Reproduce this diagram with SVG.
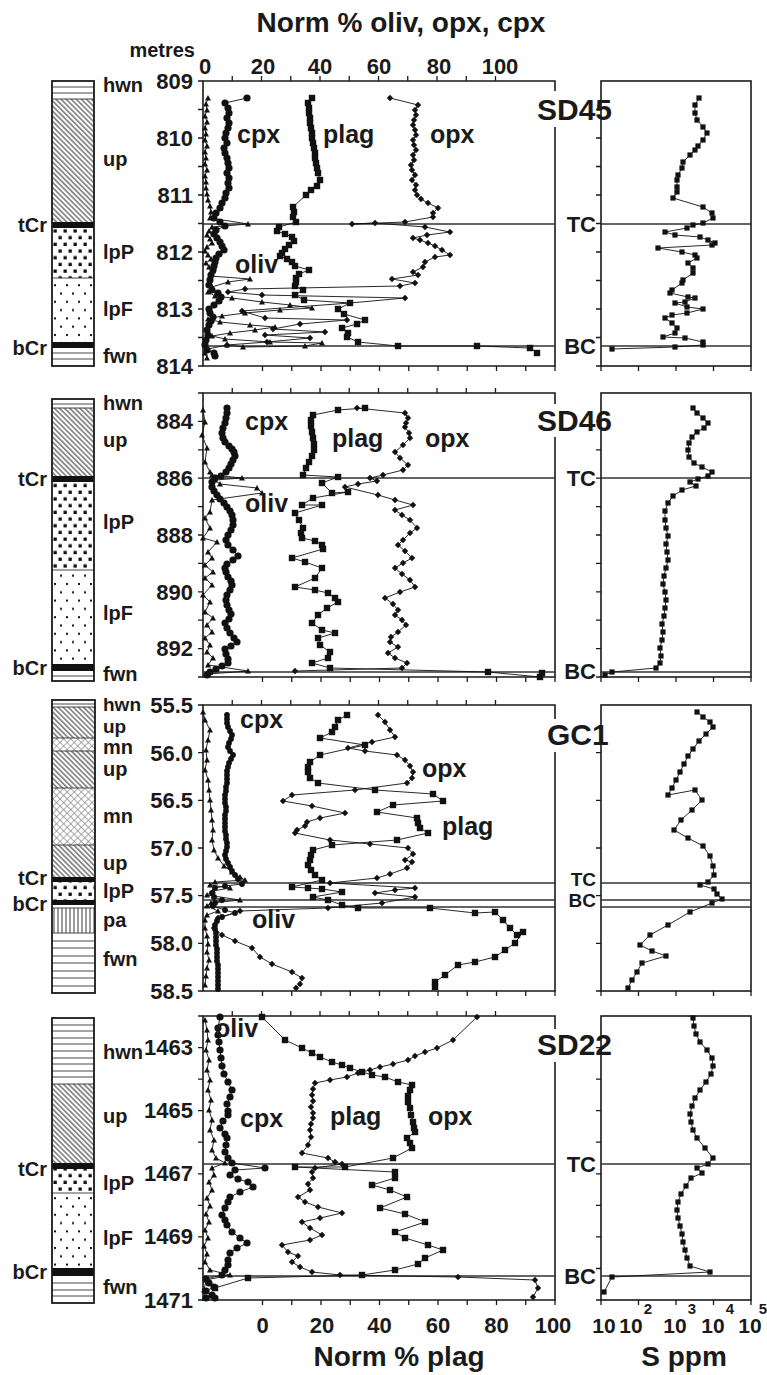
<svg xmlns="http://www.w3.org/2000/svg" width="767" height="1375" viewBox="0 0 767 1375">
<style>
text{font-family:"Liberation Sans",Arial,Helvetica,sans-serif;font-weight:bold;fill:#1a1a1a}
.big{font-size:28px}
.num{font-size:22px}
.n21{font-size:21px}
.lab{font-size:20px}
.l19{font-size:19px}
.cur{font-size:25px}
.ttl{font-size:30px}
.tb{font-size:22px}
.tbs{font-size:19px}
.sup{font-size:15px}
.fr{fill:none;stroke:#1a1a1a;stroke-width:1.6}
.tk{fill:none;stroke:#1a1a1a;stroke-width:1.3}
.hl{fill:none;stroke:#333;stroke-width:1.3}
.d{fill:none;stroke:#111;stroke-width:0.9}
.c{marker-start:url(#mc);marker-mid:url(#mc);marker-end:url(#mc)}
.c2{marker-start:url(#mc2);marker-mid:url(#mc2);marker-end:url(#mc2)}
.s{marker-start:url(#ms);marker-mid:url(#ms);marker-end:url(#ms)}
.o{marker-start:url(#md);marker-mid:url(#md);marker-end:url(#md)}
.t{marker-start:url(#mt);marker-mid:url(#mt);marker-end:url(#mt)}
.ss{marker-start:url(#ms2);marker-mid:url(#ms2);marker-end:url(#ms2)}
.col{fill:none;stroke:#1a1a1a;stroke-width:1.8}
.bl{stroke:#333;stroke-width:0.9}
</style>
<defs>
<marker id="mc" markerUnits="userSpaceOnUse" markerWidth="10" markerHeight="10" refX="5" refY="5"><circle cx="5" cy="5" r="3.6" fill="#111"/></marker>
<marker id="mc2" markerUnits="userSpaceOnUse" markerWidth="10" markerHeight="10" refX="5" refY="5"><circle cx="5" cy="5" r="2.9" fill="#111"/></marker>
<marker id="ms" markerUnits="userSpaceOnUse" markerWidth="10" markerHeight="10" refX="5" refY="5"><rect x="1.8" y="1.8" width="6.4" height="6.4" fill="#111"/></marker>
<marker id="ms2" markerUnits="userSpaceOnUse" markerWidth="10" markerHeight="10" refX="5" refY="5"><rect x="2.4" y="2.4" width="5.2" height="5.2" fill="#111"/></marker>
<marker id="md" markerUnits="userSpaceOnUse" markerWidth="10" markerHeight="10" refX="5" refY="5"><path d="M5,1.8L8.2,5L5,8.2L1.8,5Z" fill="#111"/></marker>
<marker id="mt" markerUnits="userSpaceOnUse" markerWidth="10" markerHeight="10" refX="5" refY="5"><path d="M5,2L8,7.4L2,7.4Z" fill="#111"/></marker>
<pattern id="pUp" width="3.6" height="3.6" patternUnits="userSpaceOnUse" patternTransform="rotate(-45)"><line x1="1.8" y1="0" x2="1.8" y2="3.6" stroke="#222" stroke-width="0.95"/></pattern>
<pattern id="pMn" width="5" height="5" patternUnits="userSpaceOnUse" patternTransform="rotate(45)"><path d="M2.5,0V5M0,2.5H5" stroke="#888" stroke-width="0.7"/></pattern>
<pattern id="pPa" width="4" height="4" patternUnits="userSpaceOnUse"><line x1="2" y1="0" x2="2" y2="4" stroke="#222" stroke-width="0.9"/></pattern>
<pattern id="pP" width="10" height="13.4" patternUnits="userSpaceOnUse" x="52"><rect x="1.5" y="1.5" width="3.3" height="3.3" fill="#111"/><rect x="6.5" y="8.2" width="3.3" height="3.3" fill="#111"/></pattern>
<pattern id="pF" width="12" height="16.6" patternUnits="userSpaceOnUse" x="52"><rect x="2" y="2" width="2" height="2" fill="#111"/><rect x="8" y="10.3" width="2" height="2" fill="#111"/></pattern>
<path id="tt" class="tk" d="M232.25,0v-5M261.5,0v-5M290.75,0v-5M320,0v-5M349.25,0v-5M378.5,0v-5M407.75,0v-5M437,0v-5M466.25,0v-5M495.5,0v-5"/>
<path id="bt" class="tk" d="M262.5,0v5M291.75,0v5M321,0v5M350.25,0v5M379.5,0v5M408.75,0v5M438,0v5M467.25,0v5M496.5,0v5M525.75,0v5M555,0v5"/>
<path id="sb" class="tk" d="M601,0v5M638.5,0v5M676,0v5M713.5,0v5M751,0v5"/>
</defs>
<rect width="767" height="1375" fill="#fff"/>

<!-- titles -->
<text class="big" x="401" y="32" text-anchor="middle">Norm % oliv, opx, cpx</text>
<text class="lab" x="195" y="57" text-anchor="end">metres</text>
<g class="num" text-anchor="middle">
<text x="205" y="74">0</text><text x="263" y="74">20</text><text x="320" y="74">40</text><text x="379" y="74">60</text><text x="439" y="74">80</text><text x="500" y="74">100</text>
<text x="262.5" y="1333">0</text><text x="322" y="1333">20</text><text x="379.5" y="1333">40</text><text x="438" y="1333">60</text><text x="496.5" y="1333">80</text><text x="553" y="1333">100</text>
</g>
<g class="n21" text-anchor="middle">
<text x="604" y="1333">10</text><text x="631" y="1333">10</text><text x="675" y="1333">10</text><text x="713" y="1333">10</text><text x="750" y="1333">10</text>
</g>
<g class="sup" text-anchor="middle"><text x="648" y="1314">2</text><text x="692" y="1314">3</text><text x="730" y="1314">4</text><text x="763" y="1314">5</text></g>
<text class="big" x="399" y="1366" text-anchor="middle">Norm % plag</text>
<text class="big" x="684" y="1366" text-anchor="middle">S ppm</text>

<!-- stratigraphic columns -->
<g id="col-SD45">
<rect x="52" y="81" width="42" height="18" fill="#fff"/><path class="bl" d="M52,87H94M52,93H94"/>
<rect x="52" y="99" width="42" height="123" fill="url(#pUp)"/>
<rect x="52" y="222" width="42" height="6" fill="#111"/>
<rect x="52" y="228" width="42" height="50" fill="url(#pP)"/>
<rect x="52" y="278" width="42" height="64" fill="url(#pF)"/>
<rect x="52" y="342" width="42" height="6" fill="#111"/>
<path class="bl" d="M52,99H94M52,278H94M52,353H94M52,359H94"/>
<rect class="col" x="52" y="81" width="42" height="285"/>
<g class="lab"><text x="103" y="92">hwn</text><text x="103" y="166">up</text><text x="47" y="232" text-anchor="end">tCr</text><text x="103" y="259">lpP</text><text x="103" y="316">lpF</text><text x="47" y="355" text-anchor="end">bCr</text><text x="103" y="363">fwn</text></g>
</g>
<g id="col-SD46">
<rect x="52" y="399" width="42" height="9" fill="#fff"/><path class="bl" d="M52,404H94"/>
<rect x="52" y="408" width="42" height="68" fill="url(#pUp)"/>
<rect x="52" y="476" width="42" height="6" fill="#111"/>
<rect x="52" y="482" width="42" height="88" fill="url(#pP)"/>
<rect x="52" y="570" width="42" height="94" fill="url(#pF)"/>
<rect x="52" y="664" width="42" height="7" fill="#111"/>
<path class="bl" d="M52,408H94M52,570H94M52,676H94"/>
<rect class="col" x="52" y="399" width="42" height="282"/>
<g class="lab"><text x="103" y="410">hwn</text><text x="103" y="447">up</text><text x="47" y="486" text-anchor="end">tCr</text><text x="103" y="529">lpP</text><text x="103" y="620">lpF</text><text x="47" y="675" text-anchor="end">bCr</text><text x="103" y="681">fwn</text></g>
</g>
<g id="col-GC1">
<rect x="52" y="700" width="43" height="7" fill="#fff"/><path class="bl" d="M52,704H95"/>
<rect x="52" y="707" width="43" height="31" fill="url(#pUp)"/>
<rect x="52" y="738" width="43" height="13" fill="url(#pMn)"/>
<rect x="52" y="751" width="43" height="37" fill="url(#pUp)"/>
<rect x="52" y="788" width="43" height="57" fill="url(#pMn)"/>
<rect x="52" y="845" width="43" height="32" fill="url(#pUp)"/>
<rect x="52" y="877" width="43" height="5" fill="#111"/>
<rect x="52" y="882" width="43" height="18" fill="url(#pP)"/>
<rect x="52" y="900" width="43" height="5" fill="#111"/>
<rect x="52" y="908" width="43" height="25" fill="url(#pPa)"/>
<path class="bl" d="M52,707H95M52,738H95M52,751H95M52,788H95M52,845H95M52,908H95M52,933H95M52,941H95M52,948H95M52,956H95M52,963H95M52,971H95M52,978H95M52,986H95"/>
<rect class="col" x="52" y="700" width="43" height="293"/>
<g class="l19"><text x="103" y="711">hwn</text><text x="103" y="733">up</text></g>
<g class="lab"><text x="103" y="754">mn</text><text x="103" y="776">up</text><text x="103" y="823">mn</text><text x="103" y="870">up</text><text x="47" y="885" text-anchor="end">tCr</text><text x="103" y="898">lpP</text><text x="47" y="911" text-anchor="end">bCr</text><text x="103" y="927">pa</text><text x="103" y="966">fwn</text></g>
</g>
<g id="col-SD22">
<rect x="52" y="1018" width="42" height="66" fill="#fff"/>
<path class="bl" d="M52,1025H94M52,1031H94M52,1038H94M52,1044H94M52,1051H94M52,1058H94M52,1064H94M52,1071H94M52,1077H94M52,1084H94"/>
<rect x="52" y="1084" width="42" height="79" fill="url(#pUp)"/>
<rect x="52" y="1163" width="42" height="6" fill="#111"/>
<rect x="52" y="1169" width="42" height="24" fill="url(#pP)"/>
<rect x="52" y="1193" width="42" height="75" fill="url(#pF)"/>
<rect x="52" y="1268" width="42" height="8" fill="#111"/>
<path class="bl" d="M52,1193H94M52,1283H94M52,1290H94M52,1296H94"/>
<rect class="col" x="52" y="1018" width="42" height="285"/>
<g class="lab"><text x="103" y="1059">hwn</text><text x="103" y="1123">up</text><text x="47" y="1176" text-anchor="end">tCr</text><text x="103" y="1190">lpP</text><text x="103" y="1245">lpF</text><text x="47" y="1279" text-anchor="end">bCr</text><text x="103" y="1294">fwn</text></g>
</g>

<!-- axes / frames -->
<g id="axes">
<path class="fr" d="M555,91V81H203V366H555V127"/>
<path class="fr" d="M555,404V393H203V677H555V437"/>
<path class="fr" d="M555,719V705H203V991H555V752"/>
<path class="fr" d="M555,1029V1016H203V1300H555V1062"/>
<rect class="fr" x="601" y="81" width="150" height="285"/>
<rect class="fr" x="601" y="393" width="150" height="284"/>
<rect class="fr" x="601" y="705" width="150" height="286"/>
<rect class="fr" x="601" y="1016" width="150" height="284"/>
<use href="#tt" y="81"/><use href="#tt" y="393"/><use href="#tt" y="705"/><use href="#tt" y="1016"/>
<use href="#bt" y="366"/><use href="#bt" y="677"/><use href="#bt" y="991"/><use href="#bt" y="1300"/>
<use href="#sb" y="366"/><use href="#sb" y="677"/><use href="#sb" y="991"/><use href="#sb" y="1300"/>
<path class="tk" d="M198,81h5M198,109.5h5M198,138h5M198,166.5h5M198,195h5M198,223.5h5M198,252h5M198,280.5h5M198,309h5M198,337.5h5M198,366h5M596,109.5h5M596,138h5M596,166.5h5M596,195h5M596,223.5h5M596,252h5M596,280.5h5M596,309h5M596,337.5h5M596,366h5"/>
<path class="tk" d="M198,393h5M198,421.4h5M198,449.8h5M198,478.2h5M198,506.6h5M198,535h5M198,563.4h5M198,591.8h5M198,620.2h5M198,648.6h5M198,677h5M596,421.4h5M596,449.8h5M596,478.2h5M596,506.6h5M596,535h5M596,563.4h5M596,591.8h5M596,620.2h5M596,648.6h5M596,677h5"/>
<path class="tk" d="M198,705h5M198,752.7h5M198,800.3h5M198,848h5M198,895.7h5M198,943.3h5M198,991h5M596,752.7h5M596,800.3h5M596,848h5M596,895.7h5M596,943.3h5M596,991h5"/>
<path class="tk" d="M198,1016h5M198,1047.6h5M198,1079.1h5M198,1110.7h5M198,1142.2h5M198,1173.8h5M198,1205.4h5M198,1236.9h5M198,1268.5h5M198,1300h5M596,1047.6h5M596,1079.1h5M596,1110.7h5M596,1142.2h5M596,1173.8h5M596,1205.4h5M596,1236.9h5M596,1268.5h5M596,1300h5"/>
<g class="num" text-anchor="end">
<text x="193" y="89">809</text><text x="193" y="146">810</text><text x="193" y="203">811</text><text x="193" y="260">812</text><text x="193" y="317">813</text><text x="193" y="374">814</text>
<text x="193" y="429">884</text><text x="193" y="486">886</text><text x="193" y="543">888</text><text x="193" y="600">890</text><text x="193" y="656">892</text>
<text x="193" y="713">55.5</text><text x="193" y="761">56.0</text><text x="193" y="808">56.5</text><text x="193" y="856">57.0</text><text x="193" y="903">57.5</text><text x="193" y="951">58.0</text><text x="193" y="999">58.5</text>
<text x="193" y="1055">1463</text><text x="193" y="1118">1465</text><text x="193" y="1181">1467</text><text x="193" y="1244">1469</text><text x="193" y="1308">1471</text>
</g>
<path class="hl" d="M203,224H555M601,224H751M203,346H555M601,346H751"/>
<path class="hl" d="M203,478H555M601,478H751M203,672H555M601,672H751"/>
<path class="hl" d="M203,883H555M601,883H751M203,900H555M601,900H751M203,907H555M601,907H751"/>
<path class="hl" d="M203,1164H555M601,1164H751M203,1276H555M601,1276H751"/>
<g class="tb" text-anchor="end">
<text x="596" y="232">TC</text><text x="596" y="354">BC</text>
<text x="596" y="486">TC</text><text x="596" y="679">BC</text>
<text x="596" y="1172">TC</text><text x="596" y="1284">BC</text>
</g>
<g class="tbs" text-anchor="end"><text x="596" y="886">TC</text><text x="596" y="907">BC</text></g>
<g class="ttl"><text x="537" y="120">SD45</text><text x="537" y="431">SD46</text><text x="547" y="745">GC1</text><text x="537" y="1055">SD22</text></g>
</g>

<!-- curves -->
<g id="connectors">
<!-- SD45 -->
<polyline class="d t" points="208,98 206,104 207,110 205,116 207,122 205,128 206,134 205,140 207,146 205,152 206,158 205,164 207,170 205,176 206,182 206,188 207,194 208,200 210,206 211,212 210,218 248,224 212,227 209,231 207,235 210,239 212,243 207,247 205,251 208,255 211,259 206,263 209,267 213,271 210,276 250,279 228,282 212,287 208,292 215,296 232,298 262,302 290,305 312,308 280,310 245,313 222,316 208,319 220,322 250,325 275,327 255,330 230,333 212,336 225,339 270,342 322,343 305,346 243,347 227,345 208,349 205,353 207,358"/>
<polyline class="d c" points="247,98 225,103 228,108 229,113 227,118 229,123 228,128 226,133 225,138 227,143 224,148 225,153 227,158 228,163 229,168 227,173 229,178 228,183 229,188 226,193 225,198 222,203 220,208 216,213 214,218 220,222 225,226 216,230 214,234 217,238 220,242 222,246 224,250 219,254 216,258 215,262 214,266 213,270 211,275 210,280 209,285 212,290 218,293 221,297 219,301 214,305 209,309 210,313 213,317 211,321 209,325 207,330 208,335 206,340 205,345 207,350 214,353 215,356"/>
<polyline class="d s" points="312,98 308,103 309,108 309,113 310,118 310,123 311,128 312,133 312,138 313,143 314,148 315,153 315,158 316,163 317,168 318,173 320,180 317,186 311,190 306,195 293,207 294,212 293,217 296,222 279,227 277,231 285,234 292,237 294,241 289,245 285,249 282,253 280,256 287,259 292,262 295,266 309,270 299,274 296,278 296,282 295,286 303,290 295,295 304,300 350,303 338,309 344,314 365,320 357,324 342,328 348,333 347,337 358,342 398,346 477,346 530,348 537,353"/>
<polyline class="d o" points="390,98 418,105 415,110 416,115 414,120 413,125 415,130 416,135 413,140 414,145 416,150 413,155 414,160 411,165 412,170 415,175 412,180 416,185 415,190 417,195 421,199 428,203 438,208 433,213 433,217 405,222 352,224 375,223 425,227 450,232 427,235 413,238 420,240 428,243 435,246 442,250 450,255 435,257 425,262 423,267 413,272 418,275 392,279 415,283 400,286 245,289 228,292 262,295 405,298 350,303 242,311 265,318 347,320 300,324 273,329 325,332 265,335 310,338 267,342 227,345"/>
<polyline class="d ss" points="699,98 695,105 695,113 697,120 703,127 707,133 703,140 698,146 695,150 690,155 683,162 682,168 678,175 677,180 677,187 677,192 673,198 703,207 712,213 713,218 703,223 693,225 687,228 665,232 675,235 700,237 708,240 715,243 712,245 658,248 682,252 695,255 697,258 688,263 693,268 693,273 683,280 682,283 672,290 670,293 688,297 695,298 685,302 675,303 687,307 703,309 687,313 672,315 665,318 672,323 677,328 675,333 663,337 685,338 703,342 703,345 675,347 612,349"/>
<!-- SD46 -->
<polyline class="d t" points="203,410 205,422 202,435 207,448 205,462 210,472 212,475 242,478 215,480 220,484 257,488 262,493 212,500 210,512 205,518 210,528 203,538 217,542 208,552 212,558 205,565 213,572 205,578 212,585 203,595 210,602 205,612 213,618 207,625 212,632 205,638 210,645 207,652 213,658 208,665 248,671 208,674"/>
<polyline class="d c" points="227,408 227,413 226,418 225,423 223,428 222,433 223,438 225,442 229,446 232,449 234,452 235,456 233,460 231,464 229,468 226,472 221,476 215,478 212,482 212,487 214,491 217,495 220,499 224,503 227,507 230,511 232,515 233,520 233,525 231,530 228,535 226,540 228,545 233,550 238,556 233,560 227,564 225,568 226,572 228,577 231,581 232,585 230,590 227,595 226,600 227,605 229,610 231,614 229,619 225,623 227,628 230,633 234,638 237,642 231,646 225,649 226,654 228,659 228,663 222,666 216,669 210,672 207,675"/>
<polyline class="d s" points="365,408 338,410 313,415 311,420 311,426 312,432 313,438 314,444 314,450 312,456 309,462 306,468 303,475 338,477 322,483 332,493 348,492 313,498 302,505 322,505 295,513 299,520 303,528 301,533 302,538 315,541 322,545 323,549 292,558 305,562 322,568 315,578 295,587 315,590 328,593 335,598 338,602 327,608 318,615 312,623 322,630 335,633 318,638 320,645 330,652 328,658 312,663 330,668 488,672 540,677 542,673"/>
<polyline class="d o" points="357,408 405,413 408,418 406,423 405,427 409,433 410,438 403,445 395,452 400,458 408,465 403,470 383,475 370,478 377,481 358,484 345,487 378,495 395,500 413,505 395,510 402,515 410,520 417,528 410,533 403,540 398,545 405,551 412,558 403,563 395,568 402,574 410,580 415,587 400,592 385,598 393,604 398,610 395,615 402,620 406,625 398,632 391,637 390,642 398,647 388,653 395,658 407,663 402,668 295,671"/>
<polyline class="d ss" points="693,408 697,413 703,418 708,423 704,428 697,432 692,437 689,443 688,450 689,457 694,463 702,467 712,472 708,476 698,479 690,482 696,486 682,490 673,496 668,503 665,511 665,520 666,528 668,536 666,544 667,552 668,560 666,568 664,576 663,584 665,592 666,600 665,608 664,616 662,624 663,632 662,640 660,648 661,656 660,663 656,668 612,672 605,675"/>
<!-- GC1 -->
<polyline class="d t" points="203,712 205,720 210,730 208,740 206,750 207,760 205,770 208,780 209,790 210,800 211,810 212,820 213,830 212,840 214,850 218,858 224,866 232,872 240,877 245,880 215,882 210,885 230,888 213,891 207,895 240,900 211,903 207,906 218,911 207,915 205,920 205,928 207,936 208,944 207,952 209,960 207,968 206,976 205,985"/>
<polyline class="d c2" points="227,715 227,719 227,723 228,727 230,731 232,735 231,739 229,743 228,747 230,751 233,755 231,759 229,763 228,767 227,771 227,775 227,779 227,783 226,787 226,791 225,795 225,799 225,803 226,807 226,811 225,815 225,819 225,823 225,827 225,831 226,835 226,839 227,843 227,847 226,851 225,855 226,859 228,863 230,867 232,871 235,875 238,879 242,884 225,886 215,888 212,893 214,897 222,900 215,903 213,906 225,910 235,913 222,917 217,921 215,925 215,929 216,933 216,937 216,941 216,945 217,949 217,953 217,957 217,961 218,965 218,969 218,973 218,977 218,981 218,985 218,989"/>
<polyline class="d s" points="347,715 338,720 335,727 332,732 320,738 365,745 320,755 310,762 308,767 308,772 310,778 318,783 375,790 433,794 443,801 393,805 377,812 417,818 418,823 420,828 428,833 397,840 332,845 313,850 311,855 310,860 308,865 311,870 315,875 322,880 292,887 308,888 322,889 342,892 313,897 328,900 342,905 358,908 430,908 475,913 495,912 503,920 510,928 517,935 523,932 515,943 505,950 495,957 475,962 458,965 445,975 435,982 435,987"/>
<polyline class="d o" points="378,715 385,722 390,730 395,737 372,742 348,748 365,751 397,755 405,760 410,766 413,772 412,778 407,783 355,790 292,795 283,801 312,806 345,813 320,818 307,822 305,826 297,830 295,833 330,840 370,844 408,848 413,854 405,860 412,862 407,868 390,874 377,878 330,883 415,888 395,890 375,893 415,897 382,903 328,908 240,911 218,918 214,928 222,935 235,941 252,948 260,957 272,964 292,972 302,978 300,984 296,988"/>
<polyline class="d ss" points="697,712 703,717 710,722 713,727 706,734 699,741 693,749 688,756 684,764 680,772 676,780 672,788 668,795 695,790 702,800 692,810 681,820 674,830 688,838 703,846 710,856 713,866 714,875 708,882 700,885 714,889 717,894 722,899 712,903 690,912 668,925 650,935 640,945 652,951 666,956 642,963 637,972 632,980 628,988"/>
<!-- SD22 -->
<polyline class="d t" points="205,1020 207,1030 208,1040 206,1050 209,1060 207,1070 210,1080 208,1090 211,1100 209,1110 212,1120 210,1130 214,1140 212,1150 216,1158 225,1163 212,1168 214,1175 209,1182 212,1190 207,1198 210,1206 206,1214 209,1222 205,1230 208,1238 204,1246 207,1254 205,1262 210,1270 230,1275 206,1280 204,1290 205,1298"/>
<polyline class="d c" points="220,1017 218,1028 218,1035 219,1042 220,1050 221,1058 222,1066 224,1074 228,1082 232,1090 230,1097 227,1104 228,1111 228,1115 223,1121 220,1128 225,1134 227,1138 226,1145 225,1152 228,1158 232,1163 265,1168 235,1170 230,1175 238,1179 248,1182 253,1187 240,1192 230,1197 228,1202 225,1208 222,1215 225,1220 227,1225 232,1232 240,1238 247,1243 237,1248 230,1253 228,1260 228,1265 225,1270 222,1275 206,1279 209,1283 214,1287 206,1291 212,1295 206,1298 215,1298"/>
<polyline class="d s" points="262,1017 285,1040 302,1048 312,1053 320,1057 332,1062 342,1065 350,1068 362,1072 372,1075 385,1077 398,1082 412,1085 410,1090 408,1096 408,1102 410,1108 411,1115 413,1122 414,1128 415,1132 407,1138 410,1143 412,1148 393,1158 345,1167 295,1167 395,1172 395,1178 372,1185 390,1190 407,1197 380,1208 405,1214 425,1222 395,1232 405,1238 428,1245 443,1250 425,1258 418,1264 395,1270 362,1275 248,1278 215,1288"/>
<polyline class="d o" points="477,1017 453,1040 437,1048 425,1052 415,1056 408,1060 393,1064 380,1067 370,1070 358,1073 347,1077 330,1080 315,1083 313,1089 312,1095 313,1101 311,1107 313,1113 313,1118 311,1124 310,1130 311,1137 308,1145 302,1153 328,1158 335,1162 342,1164 315,1168 312,1172 313,1178 308,1184 310,1190 298,1197 305,1202 318,1207 342,1213 320,1218 302,1222 310,1228 322,1235 310,1240 282,1245 288,1252 298,1256 292,1262 300,1267 312,1272 340,1275 458,1277 535,1280 538,1288 533,1297"/>
<polyline class="d ss" points="693,1018 694,1026 696,1034 700,1042 707,1050 712,1058 713,1066 711,1074 706,1082 700,1090 695,1098 692,1106 690,1114 691,1122 693,1130 697,1138 705,1148 713,1158 708,1164 697,1168 702,1173 691,1178 686,1186 681,1194 678,1202 677,1210 678,1218 680,1226 682,1234 683,1242 685,1250 687,1258 690,1266 710,1272 612,1277 604,1292"/>
</g>

<!-- curve labels -->
<g class="cur">
<text x="237" y="143">cpx</text><text x="323" y="143">plag</text><text x="430" y="143">opx</text><text x="235" y="273">oliv</text>
<text x="245" y="430">cpx</text><text x="332" y="447">plag</text><text x="425" y="447">opx</text><text x="245" y="512">oliv</text>
<text x="240" y="728">cpx</text><text x="422" y="777">opx</text><text x="442" y="835">plag</text><text x="252" y="928">oliv</text>
<text x="215" y="1037">oliv</text><text x="240" y="1127">cpx</text><text x="330" y="1125">plag</text><text x="428" y="1125">opx</text>
</g>
</svg>
